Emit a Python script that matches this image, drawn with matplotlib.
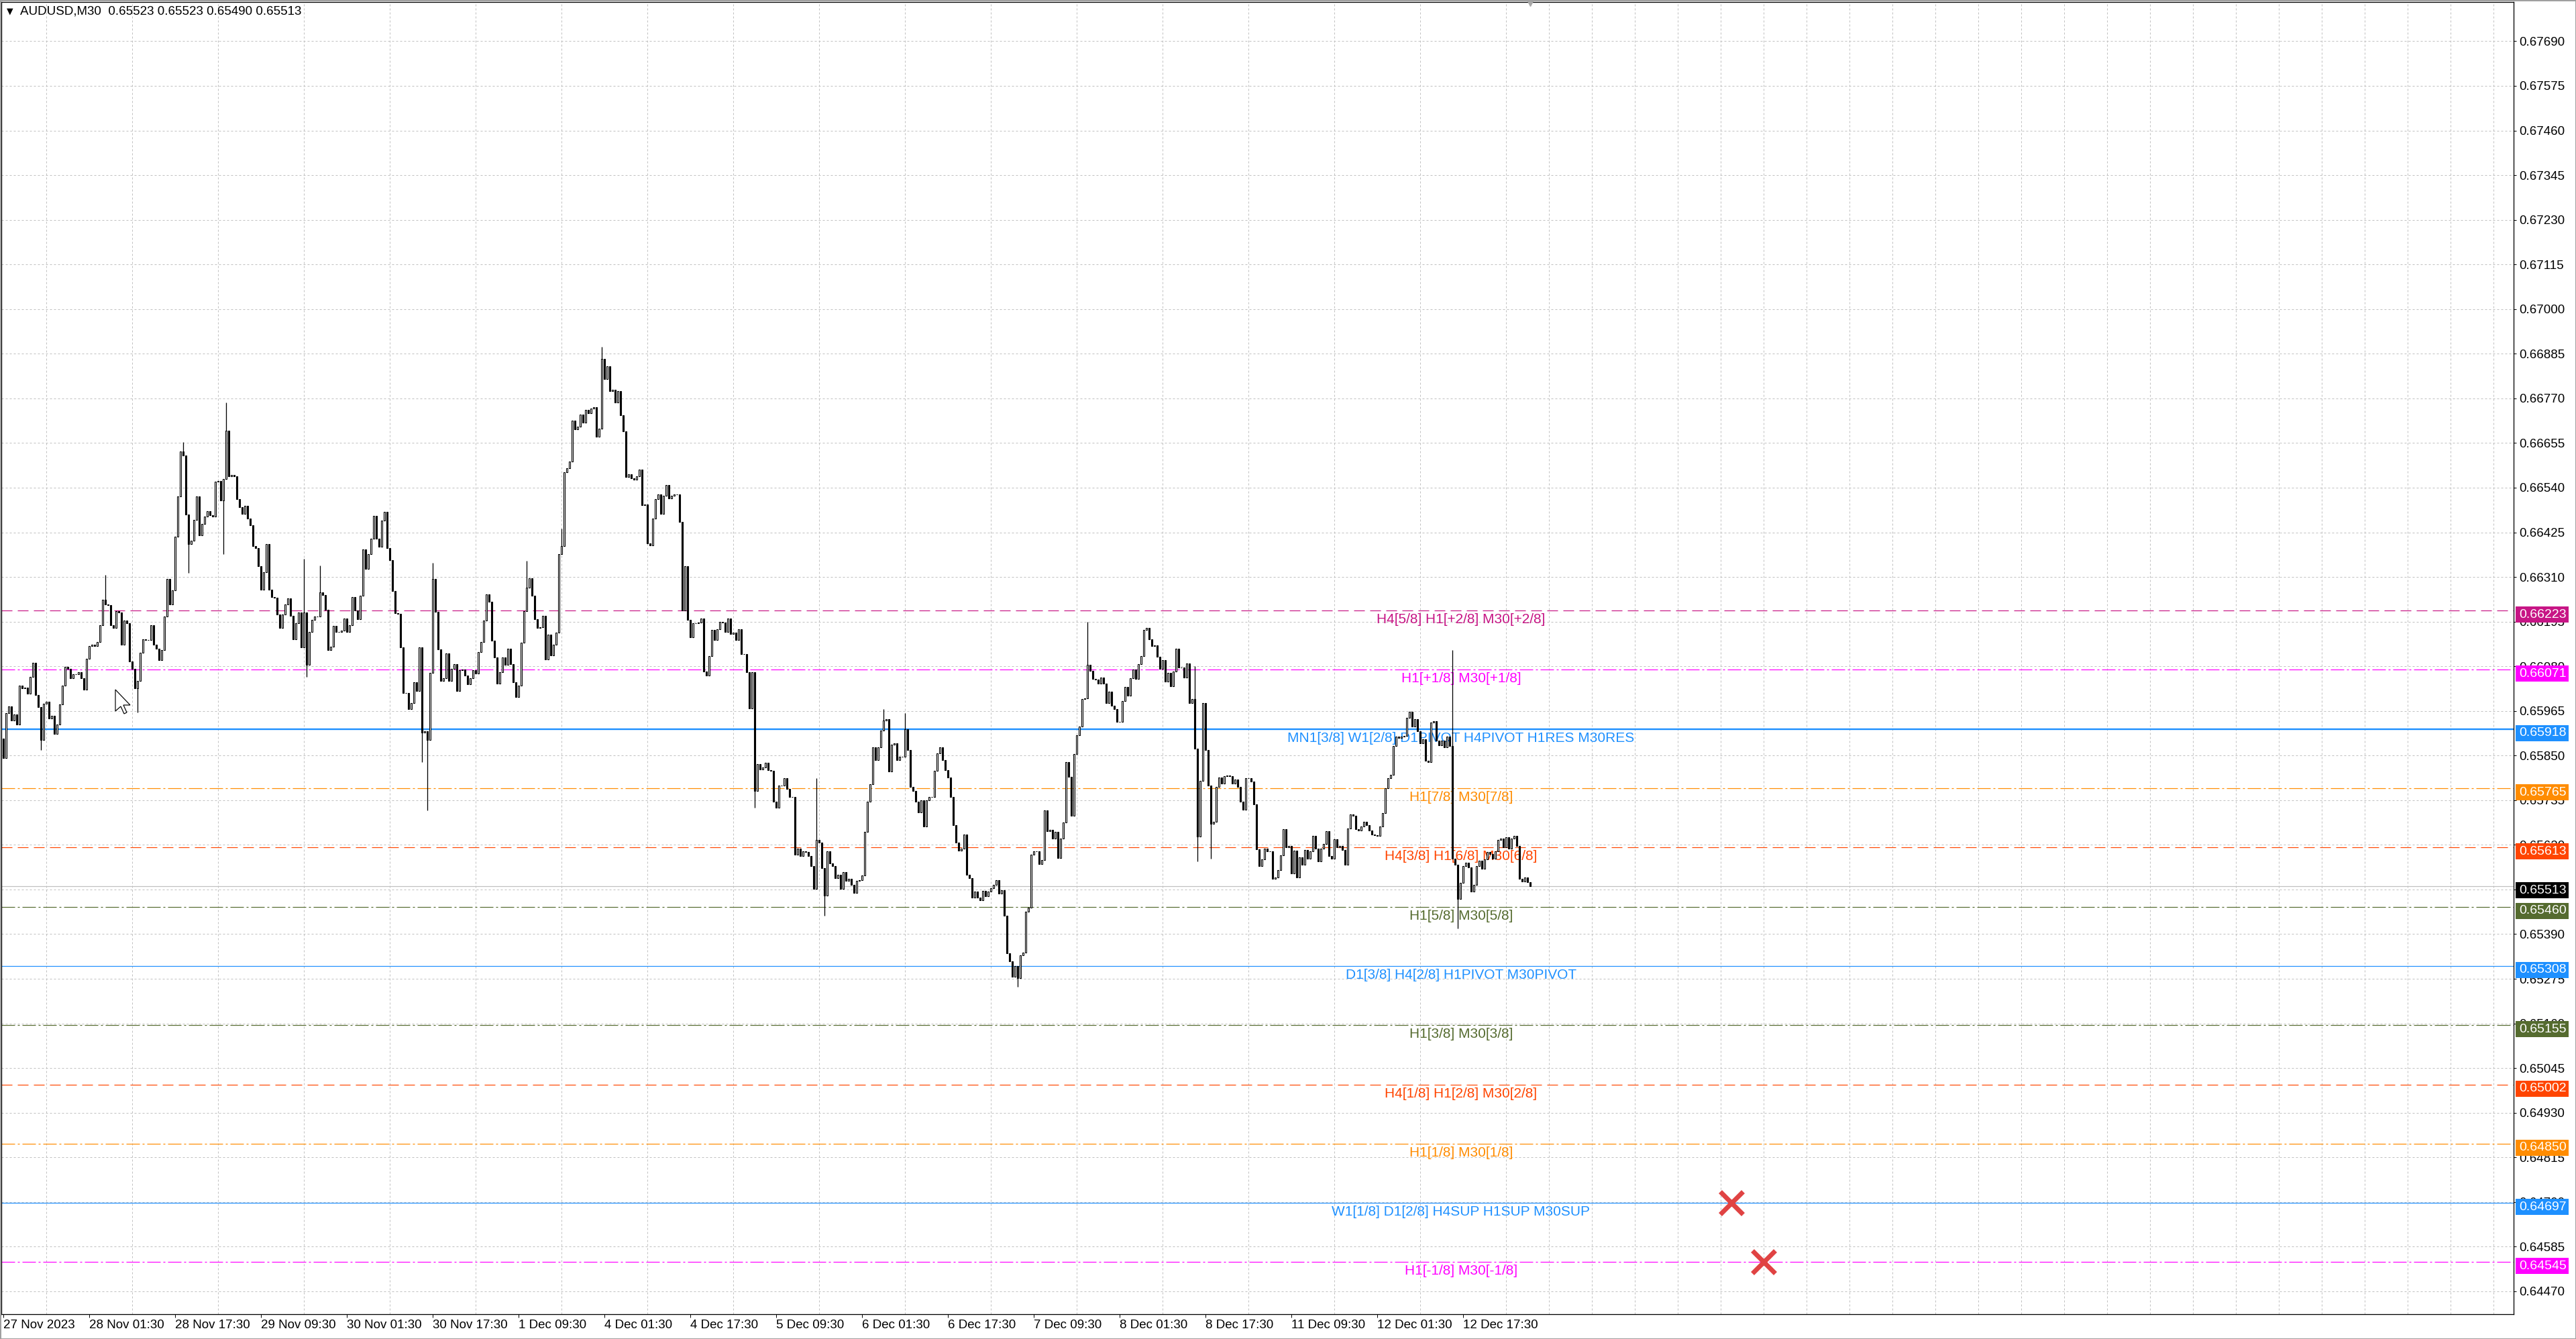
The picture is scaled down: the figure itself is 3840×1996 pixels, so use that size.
import numpy as np
import matplotlib
matplotlib.use("Agg")
import matplotlib.pyplot as plt
from matplotlib import transforms
from matplotlib.patches import Rectangle, Polygon
from matplotlib.ticker import MultipleLocator

plt.rcParams['font.family'] = ['Liberation Sans', 'DejaVu Sans']
plt.rcParams['lines.scale_dashes'] = False

W, H = 3840, 1996
PX = 72 / 100  # one pixel in points (dpi 100)

# ---- data ----
header = "AUDUSD,M30  0.65523 0.65523 0.65490 0.65513"

# M30 closes in points (1e-5), open of each bar = previous close
first_open = 65894
close_pts = [
    65844, 65959, 65977, 65941, 65956, 65930, 66031, 66024, 66025, 66010,
    66053, 66089, 66006, 65974, 65891, 65984, 65988, 65945, 65952, 65905,
    65930, 65981, 66031, 66078, 66074, 66049, 66060, 66059, 66064, 66049,
    66020, 66100, 66132, 66136, 66132, 66143, 66186, 66251, 66239, 66237,
    66186, 66179, 66222, 66219, 66136, 66197, 66190, 66093, 66074, 66024,
    66042, 66114, 66150, 66147, 66147, 66186, 66136, 66125, 66096, 66121,
    66208, 66305, 66240, 66276, 66413, 66518, 66633, 66622, 66471, 66395,
    66403, 66457,
    66518, 66417, 66447, 66465, 66480, 66469, 66465, 66555, 66557, 66507,
    66563, 66687, 66570, 66572, 66570, 66510, 66489, 66473, 66494, 66460,
    66443, 66390, 66384, 66338, 66278, 66323, 66394, 66278, 66259, 66257,
    66214, 66179, 66214, 66240, 66255, 66210, 66150, 66191, 66218, 66128,
    66218, 66083, 66169, 66200, 66208, 66209, 66270, 66263, 66225, 66122,
    66131, 66184, 66169, 66169, 66171, 66203, 66169, 66186, 66259, 66224,
    66201, 66261, 66381, 66330, 66368, 66409, 66467, 66409, 66387, 66456,
    66477, 66384, 66353, 66274, 66216,
    66215, 66128, 66012, 66012, 65970, 65986, 66038, 66017, 66128, 65909,
    65912, 65891, 66063, 66305, 66221, 66124, 66042, 66049, 66113, 66042,
    66074, 66085, 66017, 66070, 66071, 66056, 66033, 66049, 66070, 66061,
    66117, 66142, 66198, 66265, 66246, 66146, 66103, 66035, 66065, 66102,
    66083, 66126, 66086, 66038, 66000, 66031, 66140, 66222, 66282, 66307,
    66262, 66202, 66178, 66180, 66210, 66097, 66162, 66108, 66136, 66166,
    66369, 66389, 66580, 66590, 66607, 66713, 66690, 66698, 66729, 66708,
    66740, 66731,
    66744, 66747, 66671, 66692, 66872, 66820, 66853, 66788, 66793, 66759,
    66788, 66727, 66685, 66568, 66574, 66564, 66561, 66570, 66586, 66495,
    66497, 66396, 66392, 66460, 66511, 66523, 66473, 66520, 66547, 66513,
    66519, 66523, 66522, 66452, 66224, 66337, 66199, 66155, 66190, 66190,
    66193, 66203, 66066, 66056, 66106, 66173, 66147, 66175, 66194, 66192,
    66169, 66203, 66163, 66167, 66148, 66175, 66111, 66112, 66064, 65972,
    66064, 65758, 65828, 65815, 65819, 65831, 65813, 65811, 65731, 65716,
    65772, 65772, 65792,
    65764, 65744, 65744, 65595, 65610, 65592, 65603, 65602, 65592, 65566,
    65506, 65633, 65626, 65560, 65490, 65603, 65572, 65566, 65534, 65543,
    65506, 65549, 65528, 65533, 65517, 65497, 65527, 65529, 65541, 65654,
    65731, 65776, 65871, 65839, 65871, 65914, 65940, 65944, 65809, 65878,
    65882, 65839, 65847, 65847, 65917, 65865, 65769, 65758, 65732, 65704,
    65735, 65668, 65735, 65743, 65744, 65810, 65856, 65871, 65838, 65812,
    65794, 65743, 65671, 65626, 65605, 65610, 65647, 65543, 65534, 65484,
    65500, 65484,
    65477, 65501, 65487, 65500, 65508, 65517, 65529, 65495, 65503, 65437,
    65341, 65320, 65280, 65308, 65276, 65336, 65343, 65448, 65459, 65595,
    65603, 65603, 65570, 65581, 65709, 65656, 65658, 65636, 65654, 65586,
    65636, 65678, 65834, 65795, 65695, 65854, 65903, 65924, 65995, 65997,
    66084, 66068, 66048, 66046, 66036, 66051, 66036, 65985, 66015, 65978,
    65970, 65936, 65936, 65990, 66026, 66005, 66050, 66071, 66048, 66086,
    66106, 66173, 66179, 66150, 66132, 66134, 66104, 66073, 66095, 66040,
    66063, 66028, 66066,
    66125, 66077, 66077, 66051, 66087, 65985, 65996, 65868, 65641, 65784,
    65986, 65864, 65772, 65674, 65679, 65770, 65793, 65778, 65797, 65799,
    65797, 65778, 65789, 65770, 65732, 65711, 65791, 65792, 65783, 65724,
    65608, 65565, 65582, 65611, 65603, 65604, 65533, 65536, 65555, 65593,
    65660, 65613, 65617, 65546, 65605, 65536, 65587, 65569, 65607, 65584,
    65604, 65643, 65611, 65578, 65610, 65622, 65656, 65591, 65584, 65634,
    65614, 65617, 65607, 65569, 65662, 65699, 65695, 65661, 65657, 65667,
    65680, 65670, 65657, 65647, 65644,
    65643, 65668, 65701, 65766, 65791, 65800, 65874, 65898, 65895, 65898,
    65900, 65947, 65962, 65924, 65944, 65912, 65881, 65892, 65837, 65833,
    65935, 65938, 65889, 65877, 65889, 65872, 65898, 65875, 65585,
    65568, 65481, 65522, 65565, 65574, 65562, 65499, 65517, 65565, 65580,
    65559, 65583, 65602, 65597, 65585, 65603, 65632, 65637, 65614, 65640,
    65611, 65637, 65643, 65617, 65533, 65525, 65536, 65523, 65513,
]

# the longer wicks that stand out (bar index -> price in points)
wick_high = {38: 66316, 67: 66658, 83: 66760, 112: 66357, 118: 66339,
             160: 66346, 195: 66351, 208: 66434, 223: 66902, 303: 65791,
             328: 65969, 336: 65960, 404: 66195, 444: 66080, 540: 66121}
wick_low = {14: 65865, 50: 65961, 69: 66320, 82: 66369, 113: 66053,
            156: 65834, 158: 65709, 280: 65716, 306: 65438, 378: 65254,
            445: 65578, 450: 65584, 542: 65405}

date_labels = ["27 Nov 2023", "28 Nov 01:30", "28 Nov 17:30", "29 Nov 09:30",
               "30 Nov 01:30", "30 Nov 17:30", "1 Dec 09:30", "4 Dec 01:30",
               "4 Dec 17:30", "5 Dec 09:30", "6 Dec 01:30", "6 Dec 17:30",
               "7 Dec 09:30", "8 Dec 01:30", "8 Dec 17:30", "11 Dec 09:30",
               "12 Dec 01:30", "12 Dec 17:30"]
bars_per_label = 32

level_prices = [0.66223, 0.66071, 0.65918, 0.65765, 0.65613, 0.65460,
                0.65308, 0.65155, 0.65002, 0.64850, 0.64697, 0.64545]
level_names = ["H4[5/8] H1[+2/8] M30[+2/8]",
               "H1[+1/8] M30[+1/8]",
               "MN1[3/8] W1[2/8] D1PIVOT H4PIVOT H1RES M30RES",
               "H1[7/8] M30[7/8]",
               "H4[3/8] H1[6/8] M30[6/8]",
               "H1[5/8] M30[5/8]",
               "D1[3/8] H4[2/8] H1PIVOT M30PIVOT",
               "H1[3/8] M30[3/8]",
               "H4[1/8] H1[2/8] M30[2/8]",
               "H1[1/8] M30[1/8]",
               "W1[1/8] D1[2/8] H4SUP H1SUP M30SUP",
               "H1[-1/8] M30[-1/8]"]
level_colors = ["#C71585", "#FF00FF", "#1E90FF", "#FF8C00", "#FF4500", "#556B2F",
                "#1E90FF", "#556B2F", "#FF4500", "#FF8C00", "#1E90FF", "#FF00FF"]
level_styles = ["dash", "dashdot", "solid", "dashdot", "dash", "dashdot",
                "solid", "dashdot", "dash", "dashdot", "solid", "dashdot"]
level_widths = [1, 1, 2, 1, 1, 1, 1, 1, 1, 1, 1, 1]
current_price = 0.65513

cross_bars = [644, 656]
cross_prices = [0.64697, 0.64545]

price_ticks = np.round(np.arange(0.64470, 0.67700, 0.00115), 5)

# ---- figure ----
fig = plt.figure(figsize=(W / 100, H / 100), dpi=100)
fig.patch.set_facecolor("white")
ax = fig.add_axes([2 / W, 37 / H, 3745 / W, 1956 / H])
ymin, ymax = 0.64411, 0.67791
ax.set_xlim(-0.75, 935.5)
ax.set_ylim(ymin, ymax)
px_price = (ymax - ymin) / 1956  # price per pixel

dash_styles = {"dash": (0, (16 * PX, 8 * PX)),
               "dashdot": (0, (20 * PX, 4 * PX, 3 * PX, 4 * PX)),
               "solid": "-"}

# grid
ax.set_axisbelow(True)
ax.xaxis.set_minor_locator(MultipleLocator(16))
ax.grid(True, which="minor", axis="x", color="#C0C0C0",
        ls=(0, (3 * PX, 3 * PX)), lw=PX)
ax.grid(True, which="major", axis="y", color="#C0C0C0",
        ls=(0, (3 * PX, 3 * PX)), lw=PX)

# level lines + names
for p, name, c, st, w in zip(level_prices, level_names, level_colors,
                             level_styles, level_widths):
    ax.axhline(p, color=c, ls=dash_styles[st], lw=w * 1.2 * PX, zorder=2)
    ax.annotate(name, xy=(543.25, p), xytext=(0, -4), textcoords="offset pixels",
                ha="center", va="top", color=c, fontsize=15, zorder=2.6)
ax.axhline(current_price, color="#C0C0C0", lw=PX * 1.2, zorder=2)

# candles
close = np.array(close_pts) / 1e5
opens = np.concatenate([[first_open / 1e5], close[:-1]])
idx = np.arange(len(close))
hi = np.maximum(opens, close)
lo = np.minimum(opens, close)
for k, v in wick_high.items():
    hi[k] = v / 1e5
for k, v in wick_low.items():
    lo[k] = v / 1e5

ax.vlines(idx, lo, hi, color="black", lw=1.3 * PX, zorder=4)
up = close >= opens
ax.bar(idx[up], (close - opens)[up], bottom=opens[up], width=0.6,
       facecolor="white", edgecolor="black", linewidth=1.1 * PX, zorder=5)
ax.bar(idx[~up], (close - opens)[~up], bottom=opens[~up], width=0.6,
       facecolor="black", edgecolor="black", linewidth=1.1 * PX, zorder=5)

# red stop crosses
ax.plot(cross_bars, cross_prices, ls="none", marker="x", ms=24, mew=5,
        color="#E04343", zorder=6)

# chart shift marker
ax.plot([569], [ymax], marker="v", ms=9, color="#A8A8A8", ls="none",
        clip_on=False, zorder=6)

# axes look
for s in ax.spines.values():
    s.set_color("black")
    s.set_linewidth(1.3 * PX)

ax.yaxis.tick_right()
ax.set_yticks(price_ticks)
ax.set_yticklabels([f"{v:.5f}" for v in price_ticks])
ax.tick_params(axis="y", which="major", length=4 * PX, width=PX, pad=4 * PX,
               labelsize=13.5, colors="black")

tick_pos = np.arange(len(date_labels)) * bars_per_label
ax.set_xticks(tick_pos)
ax.set_xticklabels(date_labels, ha="left")
ax.tick_params(axis="x", which="major", length=5 * PX, width=PX, pad=3 * PX,
               labelsize=13.5, colors="black")
ax.tick_params(axis="x", which="minor", length=0)

# price boxes on the right scale (drawn a few pixels under their line, like MT4)
tb = transforms.blended_transform_factory(fig.transFigure, ax.transData)
box_h = 24 * px_price
box_shift = 6 * px_price
box_prices = level_prices + [current_price]
box_colors = level_colors + ["black"]
for p, c in zip(box_prices, box_colors):
    yc = p - box_shift
    ax.add_patch(Rectangle((3750 / W, yc - box_h / 2), 79 / W, box_h,
                           transform=tb, facecolor=c, edgecolor="none",
                           clip_on=False, zorder=8))
    ax.text(3755 / W, yc, f"{p:.5f}", transform=tb, color="white", fontsize=14,
            ha="left", va="center", zorder=9, clip_on=False)

# header
fig.text(10 / W, 1 - 17 / H, "\u25BC", fontsize=9, va="center", ha="left",
         family=["DejaVu Sans"])
fig.text(30 / W, 1 - 17 / H, header, fontsize=13.5, va="center", ha="left")

# mouse pointer left on the chart
cursor = np.array([(0, 0), (0, 32), (8, 25), (13, 36), (17, 34), (12, 23), (22, 23)])
tip_x, tip_y = 172, 1028
fig.add_artist(Polygon([((tip_x + dx) / W, 1 - (tip_y + dy) / H) for dx, dy in cursor],
                       closed=True, transform=fig.transFigure, facecolor="white",
                       edgecolor="black", linewidth=1.2 * PX, zorder=10))

# window frame
fig.add_artist(Rectangle((0, 0), 1, 1, transform=fig.transFigure, fill=False,
                         edgecolor="#A0A0A0", linewidth=3 * PX))

fig.savefig("out.png", dpi=100, facecolor="white")
